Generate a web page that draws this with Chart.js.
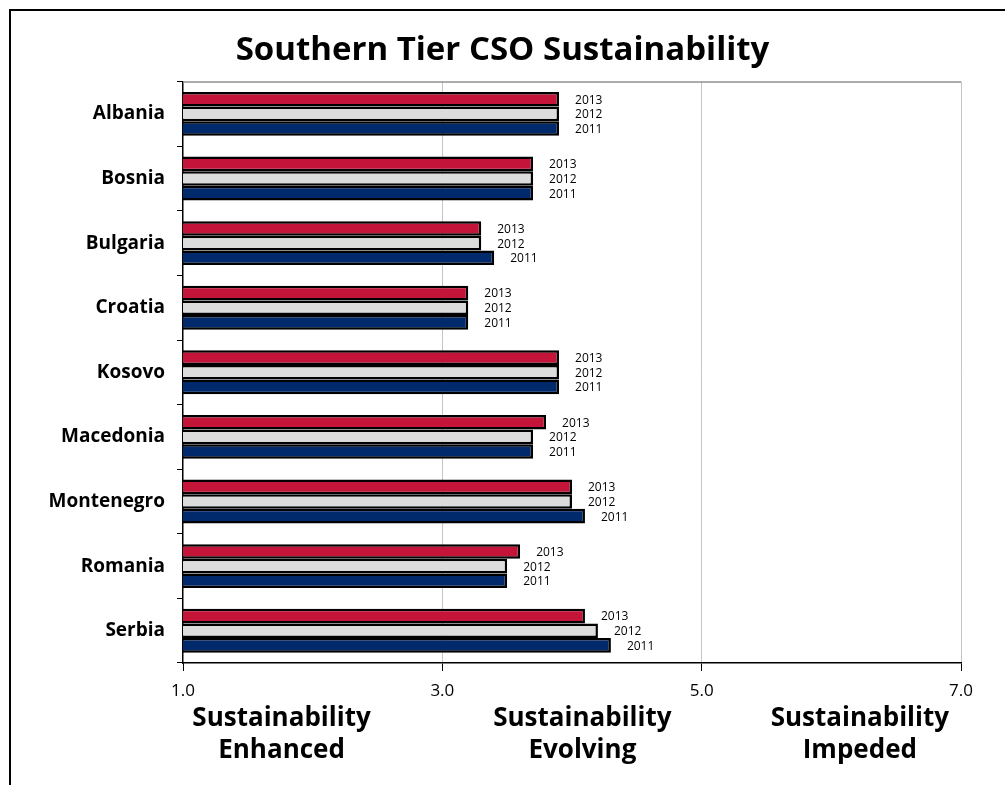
<!DOCTYPE html>
<html>
<head>
<meta charset="utf-8">
<script src="https://cdn.jsdelivr.net/npm/chart.js@4/dist/chart.umd.min.js"></script>
<style>
  html, body { margin: 0; padding: 0; background: #fff; }
  #wrap { position: relative; width: 1005px; height: 785px; }
  #frame { position: absolute; left: 9px; top: 9px; right: -10px; bottom: -10px;
           border-left: 2px solid #000; border-top: 2px solid #000; pointer-events: none; }
</style>
</head>
<body>
<div id="wrap">
  <canvas id="chartJSContainer"></canvas>
  <div id="frame"></div>
</div>
<script>
var countries = ['Albania', 'Bosnia', 'Bulgaria', 'Croatia', 'Kosovo', 'Macedonia', 'Montenegro', 'Romania', 'Serbia'];
var scores2013 = [3.9, 3.7, 3.3, 3.2, 3.9, 3.8, 4.0, 3.6, 4.1];
var scores2012 = [3.9, 3.7, 3.3, 3.2, 3.9, 3.7, 4.0, 3.5, 4.2];
var scores2011 = [3.9, 3.7, 3.4, 3.2, 3.9, 3.7, 4.1, 3.5, 4.3];
var years = ['2013', '2012', '2011'];
var colours = ['#c4143a', '#dcdcdc', '#002a6c'];
var xTicks = [1, 3, 5, 7];
var zoneLabels = [
  { value: 1.76, lines: ['Sustainability', 'Enhanced'] },
  { value: 4.08, lines: ['Sustainability', 'Evolving'] },
  { value: 6.22, lines: ['Sustainability', 'Impeded'] }
];

var fontFamily = "'Open Sans', Lato, sans-serif";

// labels with the year to the right of every bar
var barLabels = {
  id: 'barLabels',
  afterDatasetsDraw: function(chart) {
    var ctx = chart.ctx;
    ctx.save();
    ctx.font = '12px ' + fontFamily;
    ctx.fillStyle = '#000';
    ctx.textBaseline = 'middle';
    ctx.textAlign = 'left';
    chart.data.datasets.forEach(function(ds, i) {
      chart.getDatasetMeta(i).data.forEach(function(bar) {
        ctx.fillText(ds.label, bar.x + 16, bar.y + 1);
      });
    });
    ctx.restore();
  }
};

// gray top edge of the plot and the zone captions under the axis
var extras = {
  id: 'extras',
  beforeDatasetsDraw: function(chart) {
    var a = chart.chartArea;
    var ctx = chart.ctx;
    ctx.save();
    ctx.strokeStyle = '#909090';
    ctx.lineWidth = 1.5;
    ctx.beginPath();
    ctx.moveTo(a.left, a.top + 0.5);
    ctx.lineTo(a.right, a.top + 0.5);
    ctx.stroke();
    ctx.restore();
  },
  afterDraw: function(chart) {
    var ctx = chart.ctx;
    var x = chart.scales.x;
    ctx.save();
    ctx.font = 'bold 26px ' + fontFamily;
    ctx.fillStyle = '#000';
    ctx.textAlign = 'center';
    ctx.textBaseline = 'middle';
    zoneLabels.forEach(function(z) {
      var px = x.getPixelForValue(z.value);
      ctx.fillText(z.lines[0], px, 719);
      ctx.fillText(z.lines[1], px, 751);
    });
    ctx.restore();
  }
};

var data = {
  labels: countries,
  datasets: [
    { label: years[0], data: scores2013, backgroundColor: colours[0] },
    { label: years[1], data: scores2012, backgroundColor: colours[1] },
    { label: years[2], data: scores2011, backgroundColor: colours[2] }
  ]
};

data.datasets.forEach(function(ds) {
  ds.borderColor = '#000';
  ds.borderWidth = 2.5;
  ds.borderSkipped = false;
  ds.categoryPercentage = 0.68;
  ds.barPercentage = 1.0;
});

const options = {
  type: 'bar',
  data: data,
  plugins: [barLabels, extras],
  options: {
    indexAxis: 'y',
    responsive: true,
    maintainAspectRatio: false,
    animation: false,
    layout: { padding: { left: 44, right: 44, top: 0, bottom: 0 } },
    plugins: {
      legend: { display: false },
      tooltip: { enabled: false },
      title: {
        display: true,
        text: 'Southern Tier CSO Sustainability',
        color: '#000',
        font: { family: fontFamily, size: 33, weight: 'bold' },
        padding: { top: 31, bottom: 11 }
      }
    },
    scales: {
      x: {
        min: 1,
        max: 7,
        afterBuildTicks: function(scale) {
          scale.ticks = xTicks.map(v => ({ value: v }));
        },
        afterFit: function(scale) { scale.height = 122; },
        ticks: {
          color: '#000',
          padding: 10,
          maxRotation: 0,
          font: { family: fontFamily, size: 17 },
          callback: function(v) { return Number(v).toFixed(1); }
        },
        grid: {
          color: function(c) { return c.tick && c.tick.value === 1 ? 'rgba(0,0,0,0)' : '#c4c4c4'; },
          tickColor: '#000',
          tickLength: 8,
          lineWidth: 1
        },
        border: { color: '#000', width: 1.5 }
      },
      y: {
        afterFit: function(scale) { scale.width = 139; },
        ticks: {
          color: '#000',
          padding: 12,
          font: { family: fontFamily, size: 19, weight: 'bold' }
        },
        grid: {
          offset: true,
          drawOnChartArea: false,
          tickColor: '#000',
          tickLength: 6
        },
        border: { color: '#000', width: 1.5 }
      }
    }
  }
};

const ctx = document.getElementById('chartJSContainer').getContext('2d');
const chart = new Chart(ctx, options);
</script>
</body>
</html>
